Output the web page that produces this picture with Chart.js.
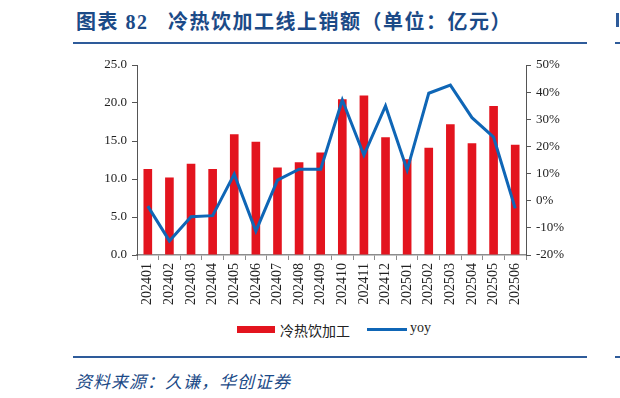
<!DOCTYPE html>
<html>
<head>
<meta charset="utf-8">
<script src="https://cdn.jsdelivr.net/npm/chart.js@4"></script>
<style>
    body { margin: 0; background: #fff; width: 620px; height: 398px; overflow: hidden; position: relative; }
    .titulo { position: absolute; left: 76px; top: 6px; font: bold 20px "Liberation Serif", "Noto Sans CJK SC", serif; letter-spacing: 1.5px; color: #1B4A87; white-space: nowrap; }
    .regla { position: absolute; height: 2px; background: #2E5B9A; }
    .fuente { position: absolute; left: 75px; top: 368px; font: italic 17px "Liberation Serif", "Noto Sans CJK SC", serif; letter-spacing: 1px; color: #1B4A87; white-space: nowrap; }
    #wrap { position: absolute; left: 0; top: 50px; width: 620px; height: 270px; }
    .leyenda { position: absolute; top: 320px; left: 0; width: 620px; height: 18px; font: 14px "Liberation Serif", "Noto Sans CJK SC", serif; color: #222; }
    .leyenda span { position: absolute; }
</style>
</head>
<body>
<div class="titulo">图表 82&nbsp;&nbsp;&nbsp;冷热饮加工线上销额（单位：亿元）</div>
<div class="regla" style="left:73px; top:42px; width:514px;"></div>
<div class="regla" style="left:615px; top:42px; width:5px;"></div>
<div class="regla" style="left:616px; top:13px; width:3px; height:14px;"></div>

<div id="wrap"><canvas id="grafico" width="620" height="270"></canvas></div>

<div class="leyenda">
    <span style="left:237px; top:6px; width:38px; height:7px; background:#E3141E;"></span>
    <span style="left:280px; top:0px;">冷热饮加工</span>
    <span style="left:367px; top:8px; width:40px; height:3px; background:#0F66B6;"></span>
    <span style="left:410px; top:0px;">yoy</span>
</div>

<div class="regla" style="left:73px; top:356px; width:514px;"></div>
<div class="regla" style="left:615px; top:356px; width:5px;"></div>
<div class="fuente">资料来源：久谦，华创证券</div>

<script>
// Datos
const meses = ["202401", "202402", "202403", "202404", "202405", "202406", "202407", "202408", "202409",
    "202410", "202411", "202412", "202501", "202502", "202503", "202504", "202505", "202506"];
const ventas = [11.3, 10.2, 12.0, 11.3, 15.9, 14.9, 11.5, 12.2, 13.5,
    20.5, 21.0, 15.5, 12.6, 14.1, 17.2, 14.7, 19.6, 14.5];
const yoy = [-2.0, -14.8, -5.9, -5.5, 9.8, -11.2, 7.6, 11.6, 11.6,
    37.1, 16.8, 34.9, 11.3, 39.6, 42.6, 30.6, 23.4, -2.8];

const fuenteTicks = { family: "Liberation Serif", size: 13 };

const ctx = document.getElementById("grafico");

new Chart(ctx, {
    type: "bar",
    data: {
        labels: meses,
        datasets: [
            {
                type: "line",
                label: "yoy",
                data: yoy,
                yAxisID: "y1",
                borderColor: "#0F66B6",
                backgroundColor: "#0F66B6",
                borderWidth: 3,
                pointRadius: 0,
                tension: 0,
                order: 1
            },
            {
                label: "冷热饮加工",
                data: ventas,
                yAxisID: "y",
                backgroundColor: "#E3141E",
                barPercentage: 0.4,
                categoryPercentage: 1,
                order: 2
            }
        ]
    },
    options: {
        responsive: false,
        animation: false,
        layout: { padding: { top: 15, left: 0, right: 0, bottom: 0 } },
        plugins: {
            legend: { display: false },
            tooltip: { enabled: false }
        },
        scales: {
            x: {
                offset: true,
                grid: { offset: true, drawOnChartArea: false, tickLength: 5, color: "#8c8c8c" },
                border: { color: "#8c8c8c", width: 1.5 },
                ticks: { minRotation: 90, maxRotation: 90, padding: 3, color: "#222", font: { family: "Liberation Serif", size: 14 } },
                afterFit: (scale) => { scale.height = 65; }
            },
            y: {
                position: "left",
                min: 0,
                max: 25,
                grid: { drawOnChartArea: false, tickLength: 5, color: "#555" },
                border: { color: "#555" },
                ticks: { stepSize: 5, padding: 5, color: "#222", font: fuenteTicks, callback: (v) => v.toFixed(1) },
                afterFit: (scale) => { scale.width = 137; }
            },
            y1: {
                position: "right",
                min: -20,
                max: 50,
                grid: { drawOnChartArea: false, tickLength: 5, color: "#555" },
                border: { color: "#555" },
                ticks: { stepSize: 10, padding: 5, color: "#222", font: fuenteTicks, callback: (v) => v + "%" },
                afterFit: (scale) => { scale.width = 94; }
            }
        }
    }
});
</script>
</body>
</html>
